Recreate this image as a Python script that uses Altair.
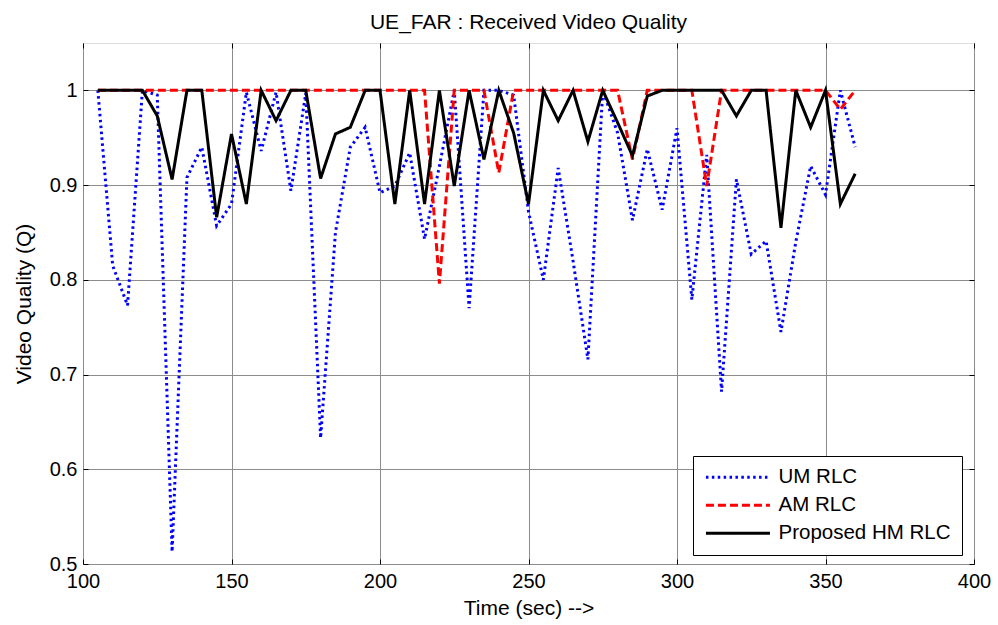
import altair as alt
import pandas as pd

# ---- data ----
time_sec = list(range(105, 361, 5))

um_rlc = [1.0, 0.815, 0.773, 1.0, 0.995, 0.513, 0.908, 0.94, 0.857, 0.88,
          0.998, 0.936, 0.998, 0.894, 0.997, 0.633, 0.85, 0.94, 0.961, 0.892,
          0.899, 0.934, 0.843, 0.92, 1.0, 0.77, 1.0, 1.0, 0.995, 0.872,
          0.80, 0.918, 0.82, 0.716, 1.0, 0.955, 0.863, 0.938, 0.874, 0.96,
          0.779, 0.932, 0.682, 0.906, 0.827, 0.841, 0.745, 0.84, 0.92, 0.89,
          1.0, 0.94]

am_rlc = [1.0, 1.0, 1.0, 1.0, 1.0, 1.0, 1.0, 1.0, 1.0, 1.0,
          1.0, 1.0, 1.0, 1.0, 1.0, 1.0, 1.0, 1.0, 1.0, 1.0,
          1.0, 1.0, 1.0, 0.796, 1.0, 1.0, 1.0, 0.913, 1.0, 1.0,
          1.0, 1.0, 1.0, 1.0, 1.0, 1.0, 0.927, 1.0, 1.0, 1.0,
          1.0, 0.899, 1.0, 1.0, 1.0, 1.0, 1.0, 1.0, 1.0, 1.0,
          0.98, 1.0]

hm_rlc = [1.0, 1.0, 1.0, 1.0, 0.973, 0.906, 1.0, 1.0, 0.866, 0.954,
          0.88, 1.0, 0.968, 1.0, 1.0, 0.907, 0.954, 0.961, 1.0, 1.0,
          0.88, 1.0, 0.88, 1.0, 0.899, 1.0, 0.927, 1.0, 0.955, 0.88,
          1.0, 0.968, 1.0, 0.946, 1.0, 0.966, 0.931, 0.994, 1.0, 1.0,
          1.0, 1.0, 1.0, 0.973, 1.0, 1.0, 0.855, 1.0, 0.961, 1.0,
          0.88, 0.912]

series_names = ["UM RLC", "AM RLC", "Proposed HM RLC"]
x_ticks = [100, 150, 200, 250, 300, 350, 400]
y_ticks = [0.5, 0.6, 0.7, 0.8, 0.9, 1.0]

# ---- styles ----
series_colors = ["#0000ff", "#ff0000", "#000000"]
series_dashes = [[2.5, 3.4], [8, 4], [1, 0]]
FONT = "Liberation Sans"

rows = []
for name, vals in zip(series_names, [um_rlc, am_rlc, hm_rlc]):
    for t, q in zip(time_sec, vals):
        rows.append({"t": t, "q": q, "s": name})
df = pd.DataFrame(rows)

x_scale = alt.Scale(domain=[100, 400], nice=False, zero=False)
y_scale = alt.Scale(domain=[0.5, 1.05], nice=False, zero=False)

x_enc = alt.X(
    "t:Q", scale=x_scale,
    axis=alt.Axis(
        values=x_ticks, format="d", title="Time (sec) -->",
        grid=True, gridColor="#8c8c8c", gridWidth=1, gridOpacity=1,
        domain=False, offset=-5, tickSize=5, tickColor="black", tickWidth=1,
        labelFlush=False, labelOverlap=False,
        labelFont=FONT, labelFontSize=20, labelColor="black", labelPadding=7,
        titleFont=FONT, titleFontSize=21, titleFontWeight="normal",
        titleColor="black", titlePadding=6,
    ),
)
y_enc = alt.Y(
    "q:Q", scale=y_scale,
    axis=alt.Axis(
        values=y_ticks, format="~g", title="Video Quality (Q)",
        grid=True, gridColor="#8c8c8c", gridWidth=1, gridOpacity=1,
        domain=False, offset=-5, tickSize=5, tickColor="black", tickWidth=1,
        labelFlush=False, labelOverlap=False,
        labelFont=FONT, labelFontSize=20, labelColor="black", labelPadding=6,
        titleFont=FONT, titleFontSize=21, titleFontWeight="normal",
        titleColor="black", titlePadding=15,
    ),
)

legend = alt.Legend(
    title=None, orient="none", legendX=610, legendY=413,
    symbolType="M-6,0H6", symbolSize=113.8, symbolStrokeWidth=3,
    symbolOffset=23.7, labelOffset=30.3, labelLimit=400,
    labelFont=FONT, labelFontSize=20.5, labelColor="black",
    strokeColor="black", fillColor="white", padding=11, rowPadding=7,
)

color_enc = alt.Color("s:N", scale=alt.Scale(domain=series_names, range=series_colors),
                      legend=legend)
dash_enc = alt.StrokeDash("s:N", scale=alt.Scale(domain=series_names, range=series_dashes),
                          legend=legend)

base = alt.Chart(df).encode(x=x_enc, y=y_enc, color=color_enc, strokeDash=dash_enc)

layers = []
for name in series_names:
    layers.append(
        base.transform_filter(alt.datum.s == name).mark_line(strokeWidth=3)
    )
lines = alt.layer(*layers)

# invisible layer that carries the inward ticks on the top and right edges
tick_layer = alt.Chart(df).mark_line(opacity=0).encode(
    x=alt.X("t:Q", scale=x_scale,
            axis=alt.Axis(orient="top", values=x_ticks, labels=False, title=None,
                          domain=False, grid=False, offset=-5, tickSize=5,
                          tickColor="black", tickWidth=1)),
    y=alt.Y("q:Q", scale=y_scale,
            axis=alt.Axis(orient="right", values=y_ticks, labels=False, title=None,
                          domain=False, grid=False, offset=-5, tickSize=5,
                          tickColor="black", tickWidth=1)),
    detail="s:N",
)

chart = alt.layer(lines, tick_layer).resolve_scale(
    x="independent", y="independent"
).properties(
    width=891, height=521,
    title=alt.Title("UE_FAR : Received Video Quality", font=FONT, fontSize=21,
                    fontWeight="normal", color="black", anchor="middle",
                    frame="group", offset=10),
    padding={"left": 83, "top": 43, "right": 24, "bottom": 61},
    autosize=alt.AutoSizeParams(type="none"),
).configure_view(stroke="black", strokeWidth=1).configure(background="white")

chart.save("out.html", embed_options={"renderer": "svg", "actions": False})
